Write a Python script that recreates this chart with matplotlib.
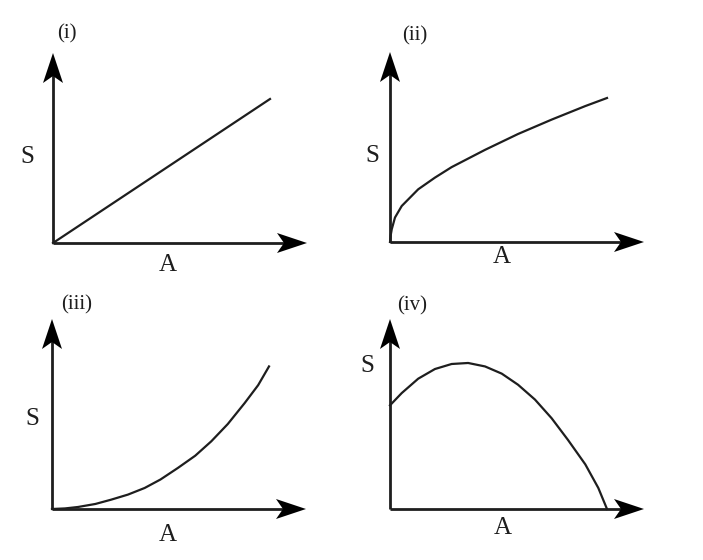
import matplotlib
matplotlib.use("Agg")
import matplotlib.pyplot as plt
from matplotlib.patches import Polygon

# curve samples (A, S scaled so curve end ~ 1)
labels = ["(i)", "(ii)", "(iii)", "(iv)"]
curve_A = [
    [0.0, 1.0],
    [0.0, 0.003, 0.008, 0.023, 0.054, 0.13, 0.207, 0.284, 0.438, 0.59,
     0.745, 0.9, 1.0],
    [0.0, 0.06, 0.12, 0.2, 0.273, 0.35, 0.427, 0.5, 0.58, 0.66, 0.734,
     0.81, 0.888, 0.95, 1.0],
    [0.0, 0.054, 0.13, 0.207, 0.284, 0.36, 0.438, 0.515, 0.59, 0.668,
     0.745, 0.82, 0.9, 0.96, 1.0],
]
curve_S = [
    [0.0, 1.0],
    [0.0, 0.045, 0.088, 0.17, 0.25, 0.366, 0.447, 0.52, 0.64, 0.75,
     0.85, 0.944, 1.0],
    [0.0, 0.004, 0.014, 0.035, 0.065, 0.1, 0.146, 0.205, 0.285, 0.37, 0.47,
     0.59, 0.736, 0.86, 0.99],
    [0.72, 0.805, 0.905, 0.972, 1.007, 1.014, 0.99, 0.94, 0.863, 0.76,
     0.63, 0.48, 0.31, 0.146, 0.0],
]

# pixel scale: 1 unit of A = 217 px, 1 unit of S = 144 px
PX_A = 217.0
PX_S = 144.0
W, H = 703, 560
# axis origins in pixels, and label offsets (A, S) for each panel
origins = [(53, 243), (390, 242), (52, 509), (390, 509)]
tag_pos = [(0.065, 1.45), (0.115, 1.43), (0.115, 1.42), (0.10, 1.41)]
s_pos = [(-0.12, 0.60), (-0.083, 0.60), (-0.092, 0.625), (-0.106, 0.99)]
a_pos = [(0.53, -0.153), (0.516, -0.104), (0.535, -0.18), (0.52, -0.13)]

X_TIP = 254 / PX_A
Y_TIP = 190 / PX_S
LEFT, RIGHT, TOP, BOT = 45, 270, 220, 40

col = "#1e1e1e"
serif = ["Liberation Serif", "DejaVu Serif"]

fig = plt.figure(figsize=(W / 100, H / 100), dpi=100)

def arrow_head(ax, tip, horizontal):
    L, hw, notch = 30, 10, 7
    tx, ty = tip
    if horizontal:
        pts = [(tx, ty),
               (tx - L / PX_A, ty + hw / PX_S),
               (tx - (L - notch) / PX_A, ty),
               (tx - L / PX_A, ty - hw / PX_S)]
    else:
        pts = [(tx, ty),
               (tx + hw / PX_A, ty - L / PX_S),
               (tx, ty - (L - notch) / PX_S),
               (tx - hw / PX_A, ty - L / PX_S)]
    ax.add_patch(Polygon(pts, closed=True, color="black", lw=0, zorder=4))

for i in range(4):
    ox, oy = origins[i]
    left = (ox - LEFT) / W
    bottom = (H - oy - BOT) / H
    ax = fig.add_axes([left, bottom, (LEFT + RIGHT) / W, (TOP + BOT) / H])
    ax.set_xlim(-LEFT / PX_A, RIGHT / PX_A)
    ax.set_ylim(-BOT / PX_S, TOP / PX_S)
    ax.axis("off")

    ax.plot([0, X_TIP - 20 / PX_A], [0, 0], color=col, lw=2.0, solid_capstyle="butt")
    ax.plot([0, 0], [0, Y_TIP - 20 / PX_S], color=col, lw=2.0, solid_capstyle="butt")
    arrow_head(ax, (X_TIP, 0), True)
    arrow_head(ax, (0, Y_TIP), False)

    ax.plot(curve_A[i], curve_S[i], color=col, lw=1.6, solid_joinstyle="round")

    ax.text(*tag_pos[i], labels[i], ha="center", va="center", fontsize=15,
            family=serif, color=col)
    ax.text(*s_pos[i], "S", ha="center", va="center", fontsize=18,
            family=serif, color=col)
    ax.text(*a_pos[i], "A", ha="center", va="center", fontsize=18,
            family=serif, color=col)

fig.savefig("out.png", dpi=100)
